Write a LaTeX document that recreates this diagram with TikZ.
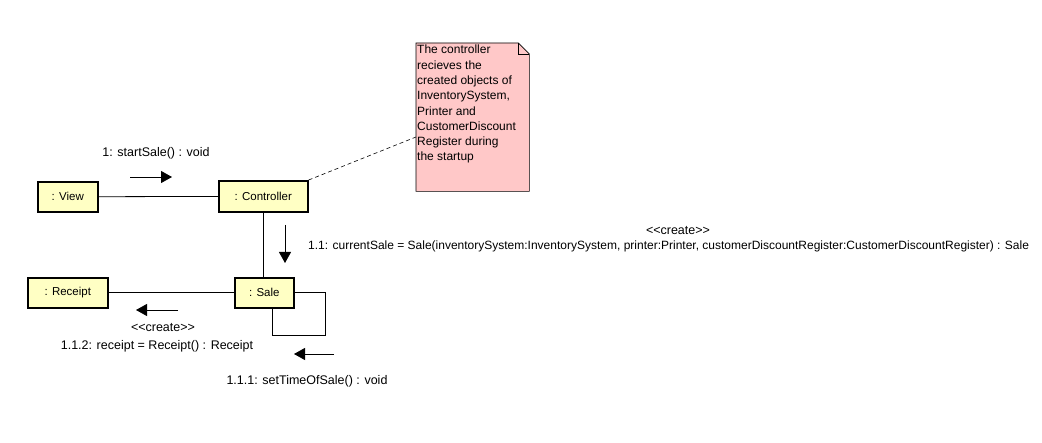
\documentclass[tikz,border=0pt]{standalone}
\usepackage{fontspec}
\setmainfont{Liberation Sans}
\usetikzlibrary{arrows.meta,calc}
\begin{document}
\begin{tikzpicture}[x=1pt,y=-1pt,
  every node/.style={font=\fontsize{11.5}{13}\selectfont, inner sep=0pt},
  obj/.style={draw=black, line width=1.6pt, fill=objfill, anchor=north west},
  link/.style={draw=black, line width=0.8pt},
  msg/.style={draw=black, line width=0.8pt, -{Triangle[length=11pt,width=12pt]}},
  lbl/.style={font=\fontsize{12.5}{14}\selectfont},
  longlbl/.style={font=\fontsize{12}{14}\selectfont},
  stereo/.style={font=\fontsize{12.5}{14}\selectfont},
  notebox/.style={anchor=north west, minimum width=113pt, minimum height=148pt},
  notetext/.style={anchor=north west, align=left, font=\fontsize{12}{15.3}\selectfont},
]
\definecolor{objfill}{HTML}{FFFFC4}
\definecolor{notefill}{HTML}{FFC8C8}
\useasboundingbox (0,0) rectangle (1042,443);

% objects
\node[obj, minimum width=60pt, minimum height=30pt] (view) at (37,181) {: View};
\node[obj, minimum width=89pt, minimum height=31pt] (ctrl) at (218,180) {: Controller};
\node[obj, minimum width=80pt, minimum height=30pt] (receipt) at (27,277) {: Receipt};
\node[obj, minimum width=59pt, minimum height=30pt] (sale) at (234,277) {: Sale};

% note with folded corner
\node[notebox] (memo) at (416,43) {};
\draw[line width=0.6pt, fill=notefill] (memo.north west) -- ([xshift=-11pt]memo.north east) -- ([yshift=-11pt]memo.north east) -- (memo.south east) -- (memo.south west) -- cycle;
\draw[line width=0.6pt] ([xshift=-11pt]memo.north east) -- ([xshift=-11pt,yshift=-11pt]memo.north east) -- ([yshift=-11pt]memo.north east);
\node[notetext] (memotext) at (417,45) {The controller\\recieves the\\created objects of\\InventorySystem,\\Printer and\\CustomerDiscount\\Register during\\the startup};

% links
\draw[link] (view) -- (ctrl);
\draw[link] (ctrl.south) -- (ctrl.south |- sale.north);
\draw[link] (receipt) -- (sale);
\coordinate (loopc) at (325,335);
\draw[link] (sale.east) -| (loopc) -| ([xshift=8.5pt]sale.south);
\coordinate (anchornote) at (416,137);
\draw[line width=0.6pt, dash pattern=on 4pt off 3pt] (ctrl.north east) -- (anchornote);

% messages
\coordinate (m1a) at (130,177); \coordinate (m1b) at (172,177);
\draw[msg] (m1a) -- (m1b);
\node[lbl] (l1) at (156,153) {1: startSale() : void};

\coordinate (m2a) at (285,225); \coordinate (m2b) at (285,263);
\draw[msg] (m2a) -- (m2b);
\node[stereo] (s2) at (678,231) {<{}<create>{}>};
\node[longlbl, anchor=west] (l2) at (308,246) {1.1: currentSale = Sale(inventorySystem:InventorySystem, printer:Printer, customerDiscountRegister:CustomerDiscountRegister) : Sale};

\coordinate (m3a) at (178,310); \coordinate (m3b) at (136,310);
\draw[msg] (m3a) -- (m3b);
\node[stereo] (s3) at (163,328) {<{}<create>{}>};
\node[lbl] (l3) at (157,346) {1.1.2: receipt = Receipt() : Receipt};

\coordinate (m4a) at (334,354); \coordinate (m4b) at (294,354);
\draw[msg] (m4a) -- (m4b);
\node[lbl] (l4) at (307,381) {1.1.1: setTimeOfSale() : void};
\end{tikzpicture}
\end{document}
